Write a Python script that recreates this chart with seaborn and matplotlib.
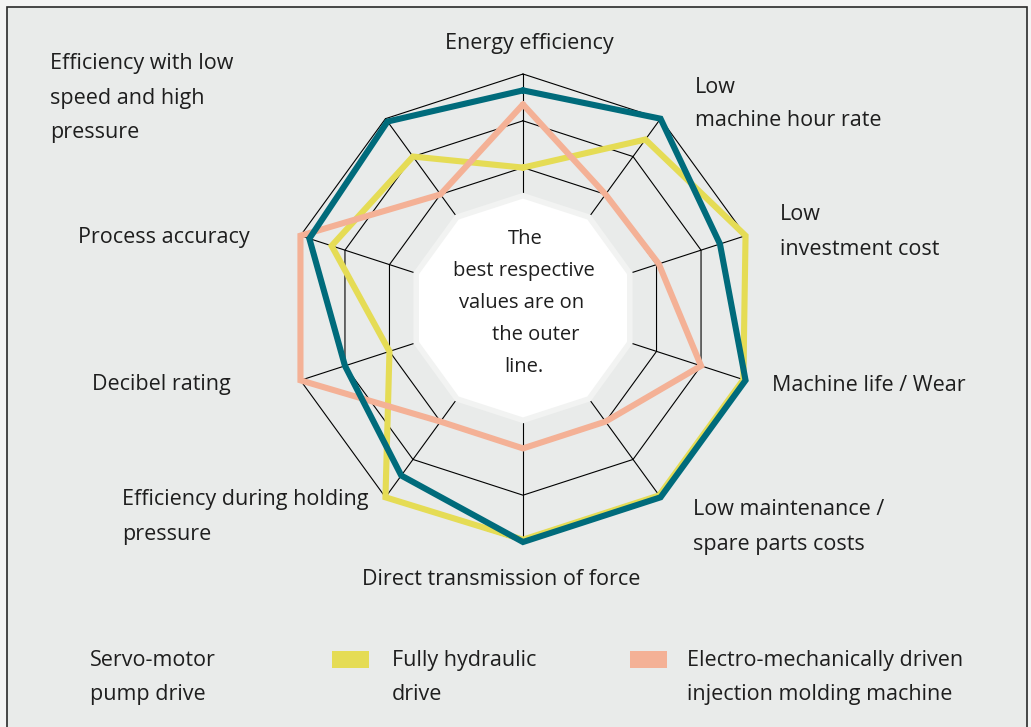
import numpy as np
import matplotlib
matplotlib.use("Agg")
import matplotlib.pyplot as plt
import seaborn as sns
from matplotlib.patches import Polygon, Rectangle

sns.set_style("white")
plt.rcParams["font.family"] = ["Open Sans", "DejaVu Sans"]

# axes, clockwise from the top
criteria = ["Energy efficiency", "Low machine hour rate", "Low investment cost",
            "Machine life / Wear", "Low maintenance / spare parts costs",
            "Direct transmission of force", "Efficiency during holding pressure",
            "Decibel rating", "Process accuracy",
            "Efficiency with low speed and high pressure"]
servo = [0.93, 1.0, 0.885, 1.0, 1.0, 1.0, 0.885, 0.8, 0.96, 0.985]
hydraulic = [0.6, 0.89, 1.0, 0.99, 0.99, 0.99, 1.0, 0.6, 0.86, 0.8]
electro = [0.87, 0.6, 0.61, 0.8, 0.6, 0.6, 0.6, 1.0, 1.0, 0.6]
rings = [0.6, 0.8, 1.0]

series_names = [["Servo-motor", "pump drive"], ["Fully hydraulic", "drive"],
                ["Electro-mechanically driven", "injection molding machine"]]
colors = {"servo": "#006b7b", "hydraulic": "#e5dc55", "electro": "#f4b196"}

cx, cy, R = 523, 308, 234
n = len(criteria)
theta = np.arange(n) * 2 * np.pi / n


def to_xy(vals):
    vals = np.asarray(vals, dtype=float)
    x = cx + vals * R * np.sin(theta)
    y = cy - vals * R * np.cos(theta)
    return np.append(x, x[0]), np.append(y, y[0])


fig = plt.figure(figsize=(10.31, 7.27), dpi=100, facecolor="#f4f4f4")
ax = fig.add_axes([0, 0, 1, 1])
ax.set_xlim(0, 1031)
ax.set_ylim(727, 0)
ax.axis("off")

ax.add_patch(Rectangle((7, 7), 1020, 740, facecolor="#e9ebea",
                       edgecolor="#2a2a2a", lw=1.2, zorder=0))

# grid: radial spokes and decagon rings
for t in theta:
    ax.plot([cx + 0.49 * R * np.sin(t), cx + R * np.sin(t)],
            [cy - 0.49 * R * np.cos(t), cy - R * np.cos(t)],
            color="black", lw=0.8, zorder=1)
for r in rings:
    gx, gy = to_xy([r] * n)
    ax.plot(gx, gy, color="black", lw=0.8, zorder=1)

# white centre with light rim
wx, wy = to_xy([0.48] * n)
ax.add_patch(Polygon(np.column_stack([wx, wy]), closed=True, facecolor="white",
                     edgecolor="#f2f3f2", lw=4, zorder=2))

for vals, key in [(hydraulic, "hydraulic"), (electro, "electro"), (servo, "servo")]:
    px, py = to_xy(vals)
    sns.lineplot(x=px, y=py, sort=False, estimator=None, ax=ax, color=colors[key],
                 lw=4.4, zorder=4, solid_joinstyle="miter")

txt = dict(fontsize=15.5, color="#1e1e1e", va="center")
labels = [
    ("Energy efficiency", 529, 43.5, "center"),
    ("Low", 695, 87.5, "left"),
    ("machine hour rate", 695, 120.5, "left"),
    ("Low", 780, 214.5, "left"),
    ("investment cost", 780, 249.5, "left"),
    ("Machine life / Wear", 772, 385.5, "left"),
    ("Low maintenance /", 693, 509.5, "left"),
    ("spare parts costs", 693, 544.5, "left"),
    ("Direct transmission of force", 501, 579.5, "center"),
    ("Efficiency during holding", 122, 499.5, "left"),
    ("pressure", 122, 534.5, "left"),
    ("Decibel rating", 92, 384.5, "left"),
    ("Process accuracy", 78, 237.5, "left"),
    ("Efficiency with low", 50, 63.5, "left"),
    ("speed and high", 50, 98.5, "left"),
    ("pressure", 50, 132.5, "left"),
]
for s, x, y, ha in labels:
    ax.text(x, y, s, ha=ha, **txt)

# note in the middle
note = dict(txt, fontsize=14.5)
for s, x, y in [("The", 525, 239), ("best respective", 524, 271),
                ("values are on", 522, 303), ("the outer", 536, 335),
                ("line.", 524, 367)]:
    ax.text(x, y, s, ha="center", **note)

# legend (servo entry has no swatch in the original)
for name, x in zip(series_names, [90, 392, 687]):
    ax.text(x, 660.5, name[0], ha="left", **txt)
    ax.text(x, 694.5, name[1], ha="left", **txt)
ax.add_patch(Rectangle((332, 651), 37, 17, facecolor=colors["hydraulic"], lw=0))
ax.add_patch(Rectangle((630, 651), 37, 17, facecolor=colors["electro"], lw=0))

fig.savefig("out.png", dpi=100, facecolor=fig.get_facecolor())
